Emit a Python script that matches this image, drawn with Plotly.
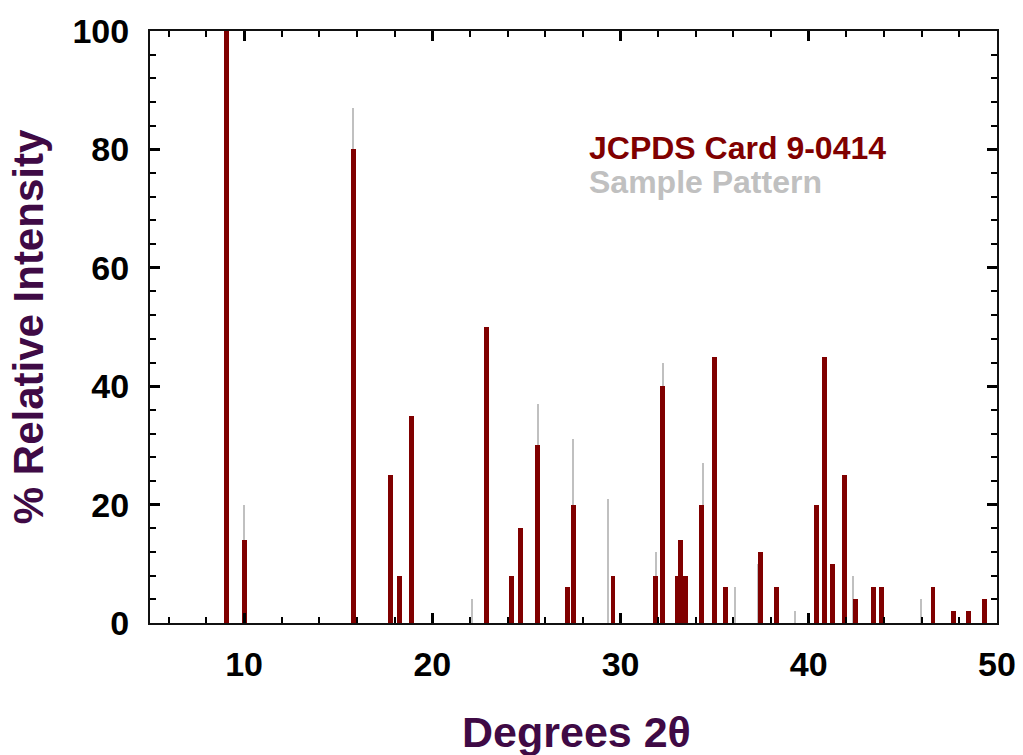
import plotly.graph_objects as go

# JCPDS reference card peaks (2-theta, % relative intensity)
card_2theta = [9.08, 10.0, 15.8, 17.8, 18.25, 18.9, 22.9, 24.2, 24.7, 25.6, 27.2, 27.5,
               29.6, 31.85, 32.25, 33.03, 33.2, 33.45, 34.3, 35.0, 35.57, 37.42, 38.3,
               40.4, 40.83, 41.27, 41.88, 42.5, 43.44, 43.84, 46.6, 47.7, 48.5, 49.35]
card_intensity = [100, 14, 80, 25, 8, 35, 50, 8, 16, 30, 6, 20,
                  8, 8, 40, 8, 14, 8, 20, 45, 6, 12, 6,
                  20, 45, 10, 25, 4, 6, 6, 6, 2, 2, 4]

# Sample pattern peaks (visible ones)
sample_2theta = [9.08, 10.0, 15.8, 22.1, 25.63, 27.5, 29.36, 31.9, 32.28, 34.39,
                 36.07, 37.3, 39.3, 42.38, 45.98]
sample_intensity = [100, 20, 87, 4, 37, 31, 21, 12, 44, 27,
                    6, 10, 2, 8, 4]

x_ticks = [10, 20, 30, 40, 50]
y_ticks = [0, 20, 40, 60, 80, 100]

RED = "#800000"
GRAY = "#c0c0c0"
PURPLE = "#3f0a45"
FONT = "Liberation Sans, Arial, sans-serif"

fig = go.Figure()
fig.add_trace(go.Bar(x=sample_2theta, y=sample_intensity, width=0.08,
                     marker=dict(color=GRAY, line=dict(width=0)),
                     name="Sample Pattern", showlegend=False))
fig.add_trace(go.Bar(x=card_2theta, y=card_intensity, width=0.26,
                     marker=dict(color=RED, line=dict(width=0)),
                     name="JCPDS Card 9-0414", showlegend=False))

axis_common = dict(
    showgrid=False, zeroline=False, showline=True, linecolor="#111111", linewidth=2,
    mirror="ticks", ticks="inside", tickcolor="#000000",
    tickfont=dict(family=FONT, size=34, color="#000000", weight="bold"),
)

fig.update_xaxes(
    range=[5, 50], tickvals=x_ticks, ticklen=10, tickwidth=3,
    minor=dict(dtick=2, tick0=0, ticks="inside", ticklen=6, tickwidth=1.5, tickcolor="#000000"),
    ticklabelstandoff=10, automargin=False,
    **axis_common,
)
fig.update_yaxes(
    range=[0, 100], tickvals=y_ticks, ticklen=10, tickwidth=3,
    minor=dict(dtick=4, tick0=0, ticks="inside", ticklen=6, tickwidth=1.5, tickcolor="#000000"),
    title=dict(text="% Relative Intensity", font=dict(family=FONT, size=42, color=PURPLE, weight="bold"),
               standoff=16),
    ticklabelstandoff=12,
    **axis_common,
)

# x-axis title
fig.add_annotation(x=0.503, y=-0.184, xref="paper", yref="paper", xanchor="center", yanchor="middle",
                   text="Degrees 2θ", showarrow=False,
                   font=dict(family=FONT, size=43, color=PURPLE, weight="bold"))

fig.add_annotation(x=0.516, y=0.803, xref="paper", yref="paper", xanchor="left", yanchor="middle",
                   text="JCPDS Card 9-0414", showarrow=False,
                   font=dict(family=FONT, size=32, color=RED, weight="bold"))
fig.add_annotation(x=0.516, y=0.745, xref="paper", yref="paper", xanchor="left", yanchor="middle",
                   text="Sample Pattern", showarrow=False,
                   font=dict(family=FONT, size=32, color=GRAY, weight="bold"))

fig.update_layout(
    width=1023, height=755, barmode="overlay", bargap=0,
    margin=dict(l=150, r=26, t=28, b=132),
    plot_bgcolor="white", paper_bgcolor="white",
)

fig.write_html("out.html")
